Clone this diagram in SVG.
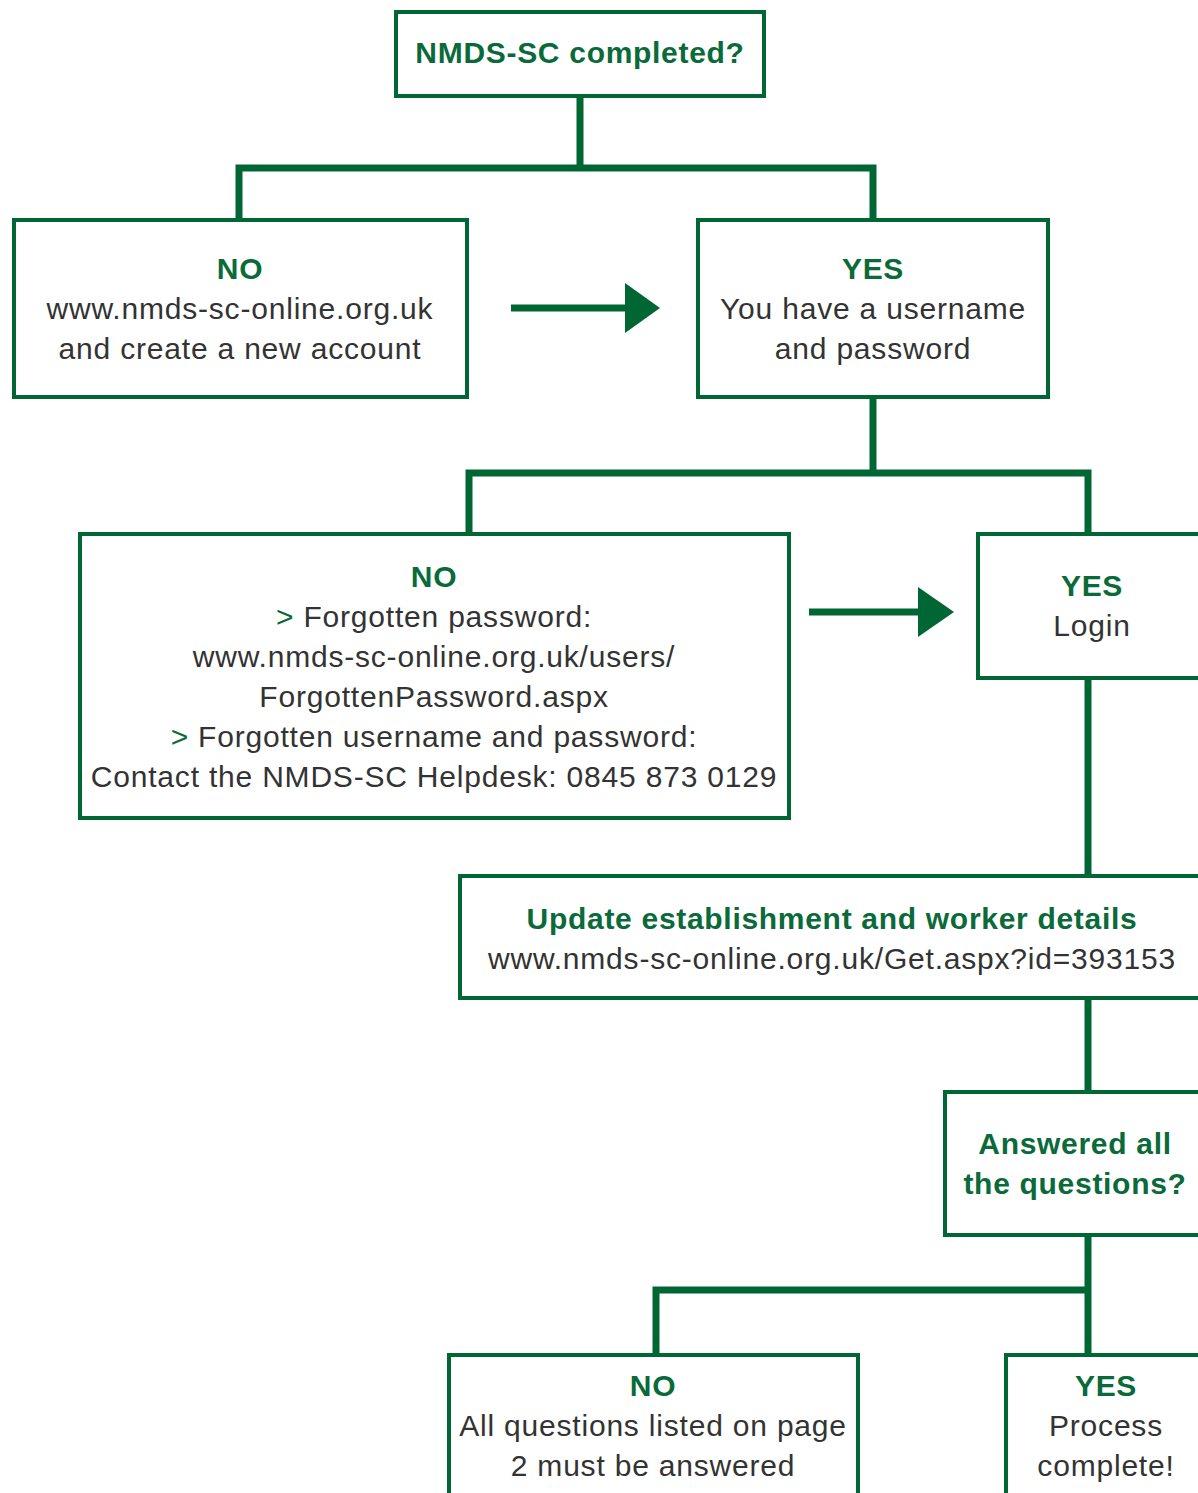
<svg xmlns="http://www.w3.org/2000/svg" width="1198" height="1493" viewBox="0 0 1198 1493">
<style>
.box{fill:#fff;stroke:#006633;stroke-width:4}
.ln{fill:none;stroke:#006633;stroke-width:7;stroke-linejoin:miter;stroke-linecap:butt}
.ar{fill:#006633}
text{font-family:"Liberation Sans",Arial,sans-serif;font-size:30px;letter-spacing:0.8px;text-anchor:middle}
.h{fill:#0a6a3a;font-weight:bold;letter-spacing:0.7px}
.t{fill:#333333}
.g{fill:#0a6a3a}
</style>
<rect width="1198" height="1493" fill="#fff"/>
<g id="connectors">
<path class="ln" d="M580 96V168M239 218V168H873V218"/>
<path class="ln" d="M873 397V473M469 533V473H1088V533"/>
<path class="ln" d="M1088 678V875"/>
<path class="ln" d="M1088 998V1091"/>
<path class="ln" d="M1088 1235V1353M656 1353V1290H1088"/>
<path class="ln" d="M511 308H628"/>
<polygon class="ar" points="625,283 660,308 625,333"/>
<path class="ln" d="M809 612H921"/>
<polygon class="ar" points="918,587 954,612 918,637"/>
</g>
<g id="n-top">
<rect class="box" x="396" y="12" width="368" height="84"/>
<text class="h" x="580" y="63">NMDS-SC completed?</text>
</g>
<g id="n-no1">
<rect class="box" x="14" y="220" width="453" height="177"/>
<text class="h" x="240" y="279">NO</text>
<text class="t" x="240" y="319">www.nmds-sc-online.org.uk</text>
<text class="t" x="240" y="359">and create a new account</text>
</g>
<g id="n-yes1">
<rect class="box" x="698" y="220" width="350" height="177"/>
<text class="h" x="873" y="279">YES</text>
<text class="t" x="873" y="319">You have a username</text>
<text class="t" x="873" y="359">and password</text>
</g>
<g id="n-no2">
<rect class="box" x="80" y="534" width="709" height="284"/>
<text class="h" x="434" y="587">NO</text>
<text class="t" x="434" y="627"><tspan class="g">&gt;</tspan> Forgotten password:</text>
<text class="t" x="434" y="667">www.nmds-sc-online.org.uk/users/</text>
<text class="t" x="434" y="707">ForgottenPassword.aspx</text>
<text class="t" x="434" y="747"><tspan class="g">&gt;</tspan> Forgotten username and password:</text>
<text class="t" x="434" y="787">Contact the NMDS-SC Helpdesk: 0845 873 0129</text>
</g>
<g id="n-yes2">
<rect class="box" x="978" y="534" width="240" height="144"/>
<text class="h" x="1092" y="596">YES</text>
<text class="t" x="1092" y="636">Login</text>
</g>
<g id="n-update">
<rect class="box" x="460" y="876" width="760" height="122"/>
<text class="h" x="832" y="929">Update establishment and worker details</text>
<text class="t" x="832" y="969">www.nmds-sc-online.org.uk/Get.aspx?id=393153</text>
</g>
<g id="n-answered">
<rect class="box" x="945" y="1092" width="275" height="143"/>
<text class="h" x="1075" y="1154">Answered all</text>
<text class="h" x="1075" y="1194">the questions?</text>
</g>
<g id="n-no3">
<rect class="box" x="449" y="1355" width="409" height="160"/>
<text class="h" x="653" y="1396">NO</text>
<text class="t" x="653" y="1436">All questions listed on page</text>
<text class="t" x="653" y="1476">2 must be answered</text>
</g>
<g id="n-yes3">
<rect class="box" x="1006" y="1355" width="214" height="160"/>
<text class="h" x="1106" y="1396">YES</text>
<text class="t" x="1106" y="1436">Process</text>
<text class="t" x="1106" y="1476">complete!</text>
</g>
</svg>
